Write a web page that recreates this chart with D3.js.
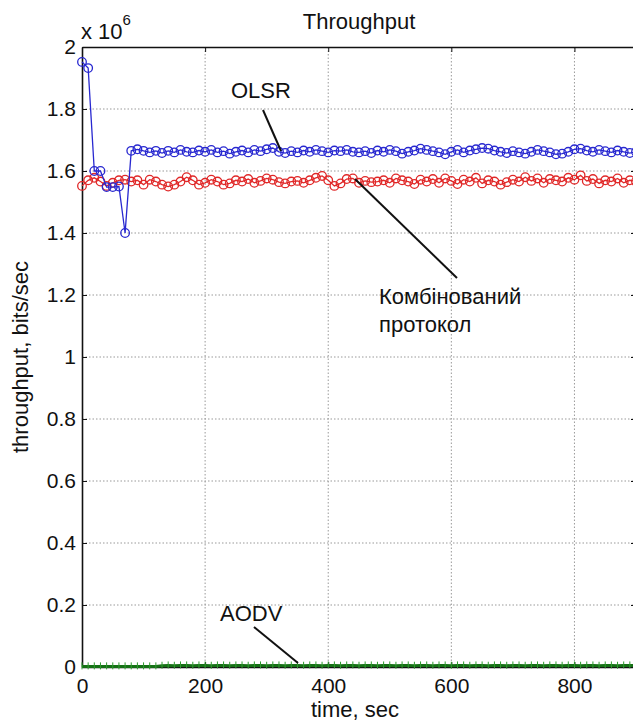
<!DOCTYPE html>
<html>
<head>
<meta charset="utf-8">
<script src="https://cdn.jsdelivr.net/npm/d3@7"></script>
<style>
  body { margin: 0; background: #fff; }
  text { font-family: "Liberation Sans", Arial, sans-serif; fill: #111; }
  .grid line { stroke: #999; stroke-dasharray: 1.5,2; stroke-width: 1; }
</style>
</head>
<body>
<div id="chart"></div>
<script>
// time step of the simulation, sec
var time = d3.range(0, 901, 10);

// throughput, x 10^6 bits/sec
var olsr = [1.952,1.932,1.600,1.600,1.548,1.548,1.550,1.400,1.665,1.670,
  1.665,1.660,1.665,1.658,1.665,1.660,1.668,1.662,1.660,1.666,
  1.662,1.668,1.660,1.664,1.656,1.662,1.666,1.660,1.668,1.664,
  1.670,1.674,1.662,1.658,1.664,1.660,1.666,1.662,1.668,1.664,
  1.660,1.666,1.664,1.668,1.662,1.660,1.664,1.658,1.666,1.662,
  1.668,1.664,1.656,1.662,1.666,1.672,1.668,1.664,1.660,1.654,
  1.662,1.668,1.660,1.666,1.670,1.674,1.672,1.666,1.662,1.658,
  1.664,1.660,1.656,1.662,1.668,1.664,1.660,1.654,1.656,1.662,
  1.670,1.672,1.666,1.662,1.668,1.664,1.660,1.666,1.662,1.658,1.662];

var combined = [1.552,1.570,1.578,1.566,1.552,1.562,1.570,1.572,1.566,1.570,
  1.556,1.572,1.566,1.556,1.550,1.556,1.566,1.580,1.570,1.556,
  1.562,1.572,1.566,1.556,1.560,1.570,1.566,1.574,1.562,1.568,
  1.576,1.572,1.564,1.560,1.566,1.568,1.562,1.570,1.578,1.584,
  1.570,1.552,1.560,1.574,1.576,1.562,1.568,1.564,1.566,1.570,
  1.562,1.576,1.570,1.566,1.558,1.572,1.566,1.574,1.562,1.576,
  1.568,1.558,1.572,1.566,1.578,1.560,1.570,1.566,1.556,1.564,
  1.572,1.566,1.580,1.568,1.576,1.562,1.574,1.570,1.566,1.578,
  1.572,1.586,1.568,1.574,1.560,1.570,1.566,1.576,1.562,1.570,1.566];

var aodv = [0.002,0.002,0.002,0.002,0.002,0.002,0.002,0.002,0.002,0.002,
  0.002,0.002,0.002,0.004,0.005,0.004,0.005,0.005,0.004,0.005,
  0.005,0.004,0.005,0.005,0.004,0.005,0.005,0.004,0.005,0.005,
  0.004,0.005,0.005,0.004,0.005,0.005,0.004,0.005,0.005,0.004,
  0.005,0.005,0.004,0.005,0.005,0.004,0.005,0.005,0.004,0.005,
  0.005,0.004,0.005,0.005,0.004,0.005,0.005,0.004,0.005,0.005,
  0.004,0.005,0.005,0.004,0.005,0.005,0.004,0.005,0.005,0.004,
  0.005,0.005,0.004,0.005,0.005,0.004,0.005,0.005,0.004,0.005,
  0.005,0.004,0.005,0.005,0.004,0.005,0.005,0.004,0.005,0.005,0.004];

var xTicks = [0, 200, 400, 600, 800];
var yTicks = [0, 0.2, 0.4, 0.6, 0.8, 1, 1.2, 1.4, 1.6, 1.8, 2];

var w = 633, h = 724;
var pl = 82, pr = 636, pt = 47, pb = 667;

var svg = d3.select("#chart").append("svg")
  .attr("width", w).attr("height", h);
svg.append("rect").attr("width", w).attr("height", h).attr("fill", "#fff");

var x = d3.scaleLinear().domain([0, 900]).range([pl, pr]);
var y = d3.scaleLinear().domain([0, 2]).range([pb, pt]);

// grid
var grid = svg.append("g").attr("class", "grid");
grid.selectAll("line.v").data(xTicks.slice(1)).enter().append("line")
  .attr("x1", d => x(d)).attr("x2", d => x(d)).attr("y1", pt).attr("y2", pb);
grid.selectAll("line.h").data(yTicks.slice(1, -1)).enter().append("line")
  .attr("x1", pl).attr("x2", pr).attr("y1", d => y(d)).attr("y2", d => y(d));

// axes, ticks pointing in like matlab
var xAxis = svg.append("g").attr("transform", "translate(0," + pb + ")")
  .call(d3.axisBottom(x).tickValues(xTicks).tickSizeInner(-5).tickSizeOuter(0).tickPadding(11));
var xTop = svg.append("g").attr("transform", "translate(0," + pt + ")")
  .call(d3.axisTop(x).tickValues(xTicks).tickSizeInner(-5).tickSizeOuter(0).tickFormat(""));
var yAxis = svg.append("g").attr("transform", "translate(" + pl + ",0)")
  .call(d3.axisLeft(y).tickValues(yTicks).tickSizeInner(-5).tickSizeOuter(0).tickPadding(6)
    .tickFormat(d => d === 0 ? "0" : String(+d.toFixed(1))));
var yRight = svg.append("g").attr("transform", "translate(" + pr + ",0)")
  .call(d3.axisRight(y).tickValues(yTicks).tickSizeInner(-5).tickSizeOuter(0).tickFormat(""));

[xAxis, xTop, yAxis, yRight].forEach(function(a) {
  a.select(".domain").attr("stroke", "#111").attr("stroke-width", 1.6);
  a.selectAll(".tick line").attr("stroke", "#111");
  a.selectAll(".tick text").attr("font-size", 21).attr("fill", "#111")
    .attr("font-family", "Liberation Sans, Arial, sans-serif");
});
xAxis.selectAll(".tick text").attr("dy", "0.72em");

var line = d3.line().x((d, i) => x(time[i])).y(d => y(d));

// AODV
svg.append("path").datum(aodv).attr("d", line)
  .attr("fill", "none").attr("stroke", "#157015").attr("stroke-width", 3);
svg.selectAll("line.aodv").data(aodv).enter().append("line")
  .attr("x1", (d, i) => x(time[i])).attr("x2", (d, i) => x(time[i]))
  .attr("y1", d => y(d) - 4).attr("y2", d => y(d) + 3)
  .attr("stroke", "#2f9a2f").attr("stroke-width", 1);

function series(data, color) {
  svg.append("path").datum(data).attr("d", line)
    .attr("fill", "none").attr("stroke", color).attr("stroke-width", 1.3);
  svg.append("g").selectAll("circle").data(data).enter().append("circle")
    .attr("cx", (d, i) => x(time[i])).attr("cy", d => y(d)).attr("r", 4.3)
    .attr("fill", "none").attr("stroke", color).attr("stroke-width", 1.3);
}
series(combined, "#e02828");
series(olsr, "#2828d0");

// title and labels
svg.append("text").attr("x", 359).attr("y", 29).attr("text-anchor", "middle")
  .attr("font-size", 22).text("Throughput");
svg.append("text").attr("x", 355).attr("y", 717).attr("text-anchor", "middle")
  .attr("font-size", 22).text("time, sec");
svg.append("text").attr("transform", "translate(28,357) rotate(-90)")
  .attr("text-anchor", "middle").attr("font-size", 22).text("throughput, bits/sec");
var mult = svg.append("text").attr("x", 81).attr("y", 39).attr("font-size", 22);
mult.append("tspan").text("x 10");
mult.append("tspan").attr("dy", -14).attr("font-size", 15).text("6");

// annotations
function note(lines, tx, ty, x1, y1, x2, y2) {
  svg.append("line").attr("x1", x1).attr("y1", y1).attr("x2", x2).attr("y2", y2)
    .attr("stroke", "#111").attr("stroke-width", 2);
  lines.forEach(function(t, i) {
    svg.append("text").attr("x", tx).attr("y", ty + i * 28).attr("font-size", 22).text(t);
  });
}
note(["OLSR"], 231, 98, 263, 110, 281, 151);
note(["Комбінований", "протокол"], 379, 304, 355, 179, 457, 278);
note(["AODV"], 220, 621, 254, 627, 298, 663);
</script>
</body>
</html>
